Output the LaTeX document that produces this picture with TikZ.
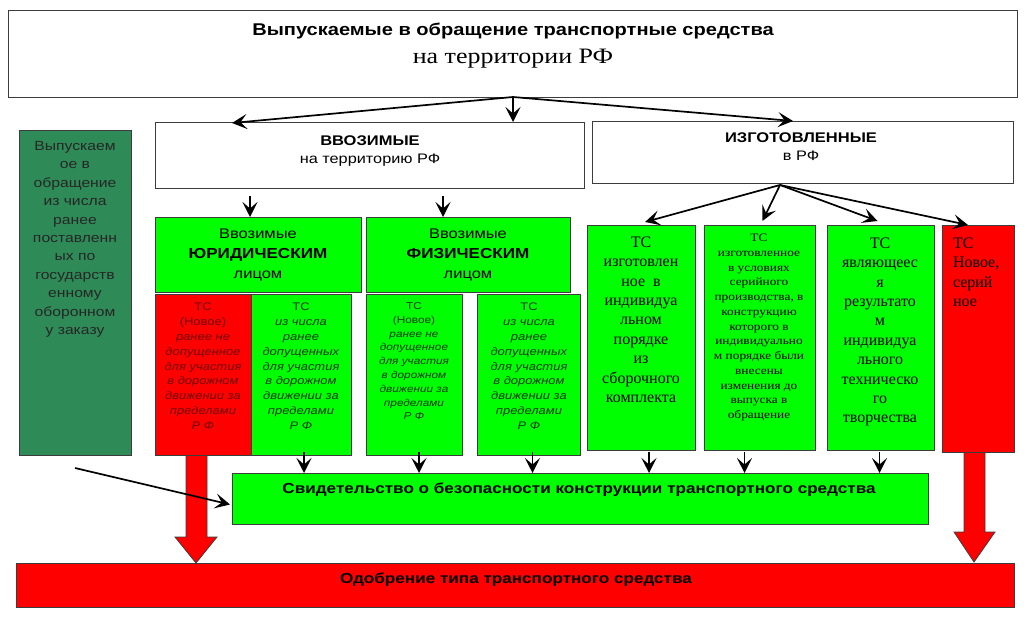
\documentclass[tikz,border=0pt]{standalone}
\usepackage{fontspec}
\setmainfont{Liberation Serif}
\setsansfont{Liberation Sans}[FakeStretch=1.18]
\newfontfamily\wserif{Liberation Serif}[FakeStretch=1.18]
\usetikzlibrary{arrows.meta,calc}
\definecolor{lgreen}{RGB}{0,255,0}
\definecolor{lred}{RGB}{255,0,0}
\definecolor{sgreen}{RGB}{46,139,87}
\definecolor{dred}{RGB}{110,0,0}
\definecolor{dgreen}{RGB}{0,55,0}
\definecolor{frame}{RGB}{60,60,60}
\newcommand{\fsz}[2]{\fontsize{#1}{#2}\selectfont}
\begin{document}
\begin{tikzpicture}[x=1pt,y=-1pt,
 box/.style={draw=frame, line width=0.9pt, inner sep=0pt, outer sep=0pt, anchor=north west},
 txt/.style={inner sep=0pt, outer sep=0pt, align=center, anchor=north},
 one/.style={inner sep=0pt, outer sep=0pt, anchor=base},
 arr/.style={draw=black, line width=1.7pt, -{Stealth[length=15pt,width=15pt,inset=6.5pt]}},
 bigarr/.style={fill=lred, draw=frame, line width=0.8pt},
]
\useasboundingbox (0,0) rectangle (1024,623);

% big red arrows (behind boxes)
\begin{scope}[shift={(203,455)}]
\draw[bigarr] (-17,-4) -- (-17,82) -- (-28,82) -- (-7,108) -- (14,82) -- (4,82) -- (4,-4);
\end{scope}
\begin{scope}[shift={(978,452)}]
\draw[bigarr] (-14,-4) -- (-14,80) -- (-24,80) -- (-4,110) -- (17,80) -- (7,80) -- (7,-4);
\end{scope}

% top box
\node[box, fill=white, minimum width=1009pt, minimum height=87pt] (top) at (8,10) {};
\node[one, font=\sffamily\bfseries\fsz{17}{20}] (t1) at (513,36) {Выпускаемые в обращение транспортные средства};
\node[one, font=\wserif\fsz{22}{24}] (t2) at (513,64) {на территории РФ};

% second row
\node[box, fill=white, minimum width=429pt, minimum height=66pt] (vv) at (155,122) {};
\node[one, font=\sffamily\bfseries\fsz{14}{17}] (vv1) at (370,145) {ВВОЗИМЫЕ};
\node[one, font=\sffamily\fsz{13.8}{16}] (vv2) at (370,163) {на территорию РФ};

\node[box, fill=white, minimum width=421pt, minimum height=62pt] (iz) at (592,121) {};
\node[one, font=\sffamily\bfseries\fsz{14}{17}] (iz1) at (801,142) {ИЗГОТОВЛЕННЫЕ};
\node[one, font=\sffamily\fsz{13.8}{16}] (iz2) at (801,160) {в РФ};

% left dark green box
\node[box, fill=sgreen, minimum width=112pt, minimum height=325pt] (sg) at (19,130) {};
\node[txt, font=\sffamily\fsz{13.3}{18.4}, text=black!85] (sgt) at (75,137.7) {\strut Выпускаем\\ое в\\обращение\\из числа\\ранее\\поставленн\\ых по\\государств\\енному\\оборонном\\у заказу};

% legal / physical person boxes
\node[box, fill=lgreen, minimum width=206pt, minimum height=75pt] (ur) at (155,217) {};
\node[txt, font=\sffamily\fsz{14}{20}] (urt) at (258,224) {\strut Ввозимые\\{\bfseries\fsz{14.5}{20}ЮРИДИЧЕСКИМ}\\лицом};
\node[box, fill=lgreen, minimum width=204pt, minimum height=75pt] (fz) at (366,217) {};
\node[txt, font=\sffamily\fsz{14}{20}] (fzt) at (468,224) {\strut Ввозимые\\{\bfseries\fsz{14.5}{20}ФИЗИЧЕСКИМ}\\лицом};

% sub boxes
\node[box, fill=lred, minimum width=96pt, minimum height=161pt] (s1) at (155,294) {};
\node[txt, font=\sffamily\fsz{11}{14.8}, text=dred] (s1t) at (203,300.6) {\strut ТС\\(Новое)\\\textit{ранее не}\\\textit{допущенное}\\\textit{для участия}\\\textit{в дорожном}\\\textit{движении за}\\\textit{пределами}\\\textit{Р Ф}};
\node[box, fill=lgreen, minimum width=100pt, minimum height=161pt] (s2) at (251,294) {};
\node[txt, font=\sffamily\fsz{11}{14.8}, text=dgreen] (s2t) at (301,300.6) {\strut ТС\\\textit{из числа}\\\textit{ранее}\\\textit{допущенных}\\\textit{для участия}\\\textit{в дорожном}\\\textit{движении за}\\\textit{пределами}\\\textit{Р Ф}};
\node[box, fill=lgreen, minimum width=96pt, minimum height=161pt] (s3) at (366,294) {};
\node[txt, font=\sffamily\fsz{10}{13.8}, text=dgreen] (s3t) at (414,299.9) {\strut ТС\\(Новое)\\\textit{ранее не}\\\textit{допущенное}\\\textit{для участия}\\\textit{в дорожном}\\\textit{движении за}\\\textit{пределами}\\\textit{Р Ф}};
\node[box, fill=lgreen, minimum width=103pt, minimum height=161pt] (s4) at (477,294) {};
\node[txt, font=\sffamily\fsz{11}{14.8}, text=dgreen] (s4t) at (529,300.6) {\strut ТС\\\textit{из числа}\\\textit{ранее}\\\textit{допущенных}\\\textit{для участия}\\\textit{в дорожном}\\\textit{движении за}\\\textit{пределами}\\\textit{Р Ф}};

% manufactured boxes
\node[box, fill=lgreen, minimum width=108pt, minimum height=225pt] (b1) at (587,225) {};
\node[txt, font=\fsz{16}{19.4}] (b1t) at (641,233.7) {\strut ТС\\изготовлен\\ное\ \ в\\индивидуа\\льном\\порядке\\из\\сборочного\\комплекта};
\node[box, fill=lgreen, minimum width=111pt, minimum height=225pt] (b2) at (704,225) {};
\node[txt, font=\wserif\fsz{11.3}{14.75}] (b2t) at (759,231.2) {\strut ТС\\изготовленное\\в условиях\\серийного\\производства, в\\конструкцию\\которого в\\индивидуально\\м порядке были\\внесены\\изменения до\\выпуска в\\обращение};
\node[box, fill=lgreen, minimum width=107pt, minimum height=225pt] (b3) at (827,225) {};
\node[txt, font=\fsz{16}{19.4}] (b3t) at (880,234.7) {\strut ТС\\являющеес\\я\\результато\\м\\индивидуа\\льного\\техническо\\го\\творчества};
\node[box, fill=lred, minimum width=72pt, minimum height=227pt] (b4) at (942,225) {};
\node[txt, font=\fsz{16}{19.4}, align=left, anchor=north west] (b4t) at (953,234.7) {\strut ТС\\Новое,\\серий\\ное};

% certificate and approval
\node[box, fill=lgreen, minimum width=696pt, minimum height=51pt] (sv) at (232,473) {};
\node[one, font=\sffamily\bfseries\fsz{14.5}{17}] (svt) at (579,493) {Свидетельство о безопасности конструкции транспортного средства};
\node[box, fill=lred, minimum width=998pt, minimum height=44pt] (od) at (16,563) {};
\node[one, font=\sffamily\bfseries\fsz{14.5}{17}] (odt) at (516,583) {Одобрение типа транспортного средства};

% arrows from top
\coordinate (o1) at (513,97);
\draw[arr] (o1) -- ($(vv.north west)+(77,1)$);
\draw[arr] (o1) -- (o1 |- vv.north);
\draw[arr] (o1) -- ($(iz.north west)+(201,0)$);

% arrows to person boxes
\draw[arr] ($(ur.north)+(-8,-21)$) -- ($(ur.north)+(-8,0)$);
\draw[arr] ($(fz.north)+(-25,-21)$) -- ($(fz.north)+(-25,0)$);

% arrows from manufactured
\coordinate (o2) at (780,185);
\draw[arr] (o2) -- ($(b1.north)+(4,-3)$);
\draw[arr] (o2) -- ($(b2.north)+(3,-4)$);
\draw[arr] (o2) -- ($(b3.north)+(-3,-4)$);
\draw[arr] (o2) -- ($(b4.north)+(-10,0)$);

% arrows into certificate
\coordinate (a2) at ($(s2.south)+(3,-3)$);
\coordinate (a3) at ($(s3.south)+(5,-3)$);
\coordinate (a4) at ($(s4.south)+(4,-3)$);
\coordinate (a5) at ($(b1.south)+(8,2)$);
\coordinate (a6) at ($(b2.south)+(-15,2)$);
\coordinate (a7) at ($(b3.south)+(-1,2)$);
\foreach \c in {a2,a3,a4,a5,a6,a7} \draw[arr] (\c) -- (\c |- sv.north);

% arrow from left box
\draw[arr] ($(sg.south)+(0,13)$) -- ($(sv.west)+(-2,6)$);
\end{tikzpicture}
\end{document}
